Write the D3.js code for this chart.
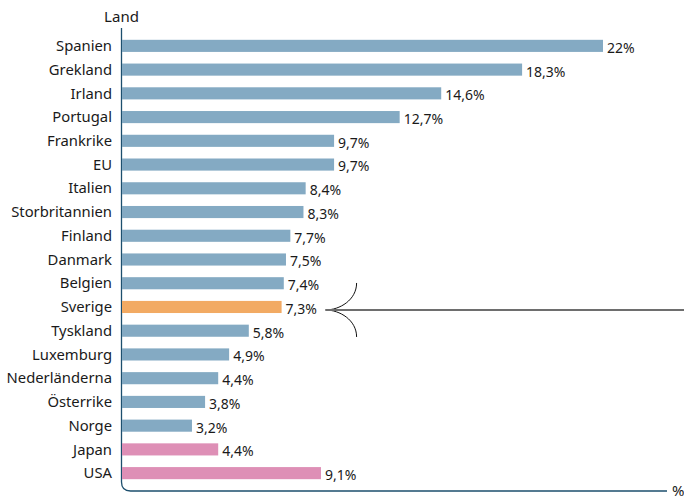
<!DOCTYPE html>
<html>
<head>
<meta charset="utf-8">
<script src="https://cdn.jsdelivr.net/npm/d3@7.9.0/dist/d3.min.js"></script>
<style>
  body { margin: 0; background: #fff; }
  text { font-family: "Noto Sans", sans-serif; fill: #1a1a1a; }
</style>
</head>
<body>
<svg id="chart" width="684" height="500"></svg>
<script>
const countries = ['Spanien', 'Grekland', 'Irland', 'Portugal', 'Frankrike', 'EU', 'Italien',
  'Storbritannien', 'Finland', 'Danmark', 'Belgien', 'Sverige', 'Tyskland', 'Luxemburg',
  'Nederländerna', 'Österrike', 'Norge', 'Japan', 'USA'];
const values = [22, 18.3, 14.6, 12.7, 9.7, 9.7, 8.4, 8.3, 7.7, 7.5, 7.4, 7.3, 5.8, 4.9, 4.4, 3.8, 3.2, 4.4, 9.1];
const groups = ['eu', 'eu', 'eu', 'eu', 'eu', 'eu', 'eu', 'eu', 'eu', 'eu', 'eu', 'se', 'eu', 'eu',
  'eu', 'eu', 'eu', 'other', 'other'];

const data = countries.map((c, i) => ({ land: c, value: values[i], group: groups[i] }));

const colors = { eu: '#84aac3', se: '#f2aa63', other: '#de8fb6' };
const fmt = (v) => String(v).replace('.', ',') + '%';

const svg = d3.select('#chart');
const left = 122;

let x = d3.scaleLinear().domain([0, 22]).range([left, 603]);
let y = d3.scaleBand().domain(countries).range([34, 485]).paddingInner(0.49).paddingOuter(0.245);

// axis frame: vertical line with rounded corner into horizontal line
const bottom = 491, r = 9, axisX = 121.5;
svg.append('path')
  .attr('d', `M${axisX},28 V${bottom - r} Q${axisX},${bottom} ${axisX + r},${bottom} H667`)
  .attr('fill', 'none')
  .attr('stroke', '#1d4f6e')
  .attr('stroke-width', 1.3);

svg.append('text')
  .attr('x', 672).attr('y', bottom + 5)
  .attr('font-size', 15)
  .text('%');

svg.append('text')
  .attr('x', axisX).attr('y', 22)
  .attr('text-anchor', 'middle')
  .attr('font-size', 15)
  .text('Land');

data.forEach((d) => {
  svg.append('rect')
    .attr('x', x(0))
    .attr('y', y(d.land))
    .attr('width', x(d.value) - x(0))
    .attr('height', y.bandwidth())
    .attr('fill', colors[d.group]);

  svg.append('text')
    .attr('x', 112)
    .attr('y', y(d.land) + y.bandwidth() / 2)
    .attr('dy', '0.35em')
    .attr('text-anchor', 'end')
    .attr('font-size', 14.8)
    .text(d.land);

  svg.append('text')
    .attr('x', x(d.value) + 4)
    .attr('y', y(d.land) + y.bandwidth() / 2 + 2)
    .attr('dy', '0.35em')
    .attr('font-size', 14)
    .text(fmt(d.value));
});

// bracket pointing at Sverige
const se = data.find((d) => d.group === 'se');
const cy = y(se.land) + y.bandwidth() / 2 + 3;
const tipX = x(se.value) + 44;
const bx = tipX + 31;
svg.append('path')
  .attr('d', `M${bx},${cy - 27} C${bx},${cy - 10} ${tipX + 14},${cy} ${tipX},${cy}` +
    ` M${tipX},${cy} C${tipX + 14},${cy} ${bx},${cy + 10} ${bx},${cy + 27}`)
  .attr('fill', 'none')
  .attr('stroke', '#111')
  .attr('stroke-width', 1);

svg.append('line')
  .attr('x1', tipX).attr('x2', 684)
  .attr('y1', cy).attr('y2', cy)
  .attr('stroke', '#6e6e6e')
  .attr('stroke-width', 2);
</script>
</body>
</html>
